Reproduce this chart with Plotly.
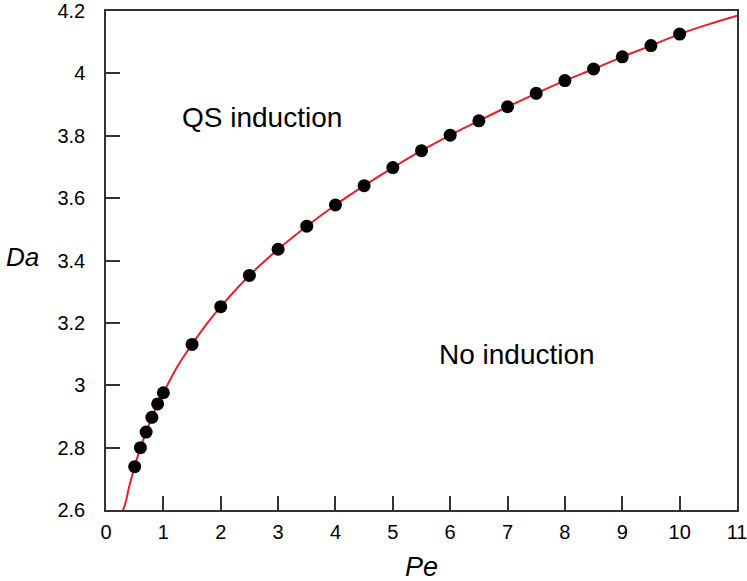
import plotly.graph_objects as go

pe_pts = [0.5, 0.6, 0.7, 0.8, 0.9, 1.0, 1.5, 2, 2.5, 3, 3.5, 4, 4.5, 5, 5.5, 6,
          6.5, 7, 7.5, 8, 8.5, 9, 9.5, 10]
da_pts = [2.739, 2.80, 2.85, 2.897, 2.94, 2.976, 3.131, 3.252, 3.352, 3.436, 3.51,
          3.578, 3.64, 3.698, 3.752, 3.802, 3.848, 3.893, 3.936, 3.977, 4.014,
          4.053, 4.089, 4.126]

pe_curve = [0.28, 0.35, 0.4, 0.5, 0.6, 0.7, 0.8, 0.9, 1.0, 1.25, 1.5, 1.75, 2, 2.5,
            3, 3.5, 4, 4.5, 5, 5.5, 6, 6.5, 7, 7.5, 8, 8.5, 9, 9.5, 10, 10.5, 11]
da_curve = [2.59, 2.63, 2.672, 2.739, 2.80, 2.85, 2.897, 2.94, 2.976, 3.062, 3.131,
            3.195, 3.252, 3.352, 3.436, 3.51, 3.578, 3.64, 3.698, 3.752, 3.802,
            3.848, 3.893, 3.936, 3.977, 4.014, 4.053, 4.089, 4.126, 4.157, 4.185]

x_ticks = list(range(0, 12))
y_ticks = [2.6, 2.8, 3.0, 3.2, 3.4, 3.6, 3.8, 4.0, 4.2]
y_tick_text = ["2.6", "2.8", "3", "3.2", "3.4", "3.6", "3.8", "4", "4.2"]

font_fam = "Liberation Sans, Arial, sans-serif"

fig = go.Figure()
fig.add_trace(go.Scatter(x=pe_curve, y=da_curve, mode="lines",
                         line=dict(color="#ee1c25", width=2, shape="spline"),
                         showlegend=False, hoverinfo="skip"))
fig.add_trace(go.Scatter(x=pe_pts, y=da_pts, mode="markers",
                         marker=dict(color="black", size=13),
                         showlegend=False))

fig.add_annotation(x=2.72, y=3.86, text="QS induction", showarrow=False,
                   font=dict(family=font_fam, size=28, color="black"))
fig.add_annotation(x=7.17, y=3.10, text="No induction", showarrow=False,
                   font=dict(family=font_fam, size=28, color="black"))
fig.add_annotation(x=-0.162, y=3.41, xref="paper", yref="y", text="<i>Da</i>",
                   showarrow=False, font=dict(family=font_fam, size=26, color="black"),
                   xanchor="left")
fig.add_annotation(x=5.5, y=-0.115, xref="x", yref="paper", text="<i>Pe</i>",
                   showarrow=False, font=dict(family=font_fam, size=27, color="black"),
                   yanchor="middle")

fig.update_layout(
    width=747, height=581,
    margin=dict(l=106, r=10, t=11, b=71),
    plot_bgcolor="white", paper_bgcolor="white",
    font=dict(family=font_fam, size=20, color="black"),
    xaxis=dict(range=[0, 11], tickvals=x_ticks, ticks="inside", ticklen=14,
               tickcolor="#333", tickwidth=1.5, showline=True, linecolor="#333",
               linewidth=1.5, mirror=True, showgrid=False, zeroline=False,
               tickfont=dict(family=font_fam, size=20, color="black"),
               ticklabelstandoff=3, automargin=False, ticklabeloverflow="allow"),
    yaxis=dict(range=[2.6, 4.2], tickvals=y_ticks, ticktext=y_tick_text,
               ticks="inside", ticklen=14, tickcolor="#333", tickwidth=1.5,
               showline=True, linecolor="#333", linewidth=1.5, mirror=True,
               showgrid=False, zeroline=False,
               tickfont=dict(family=font_fam, size=20, color="black"),
               ticklabelstandoff=15, automargin=False, ticklabeloverflow="allow"),
)

fig.write_html("out.html", config={"displayModeBar": False},
               post_script="document.body.style.margin='0';")
